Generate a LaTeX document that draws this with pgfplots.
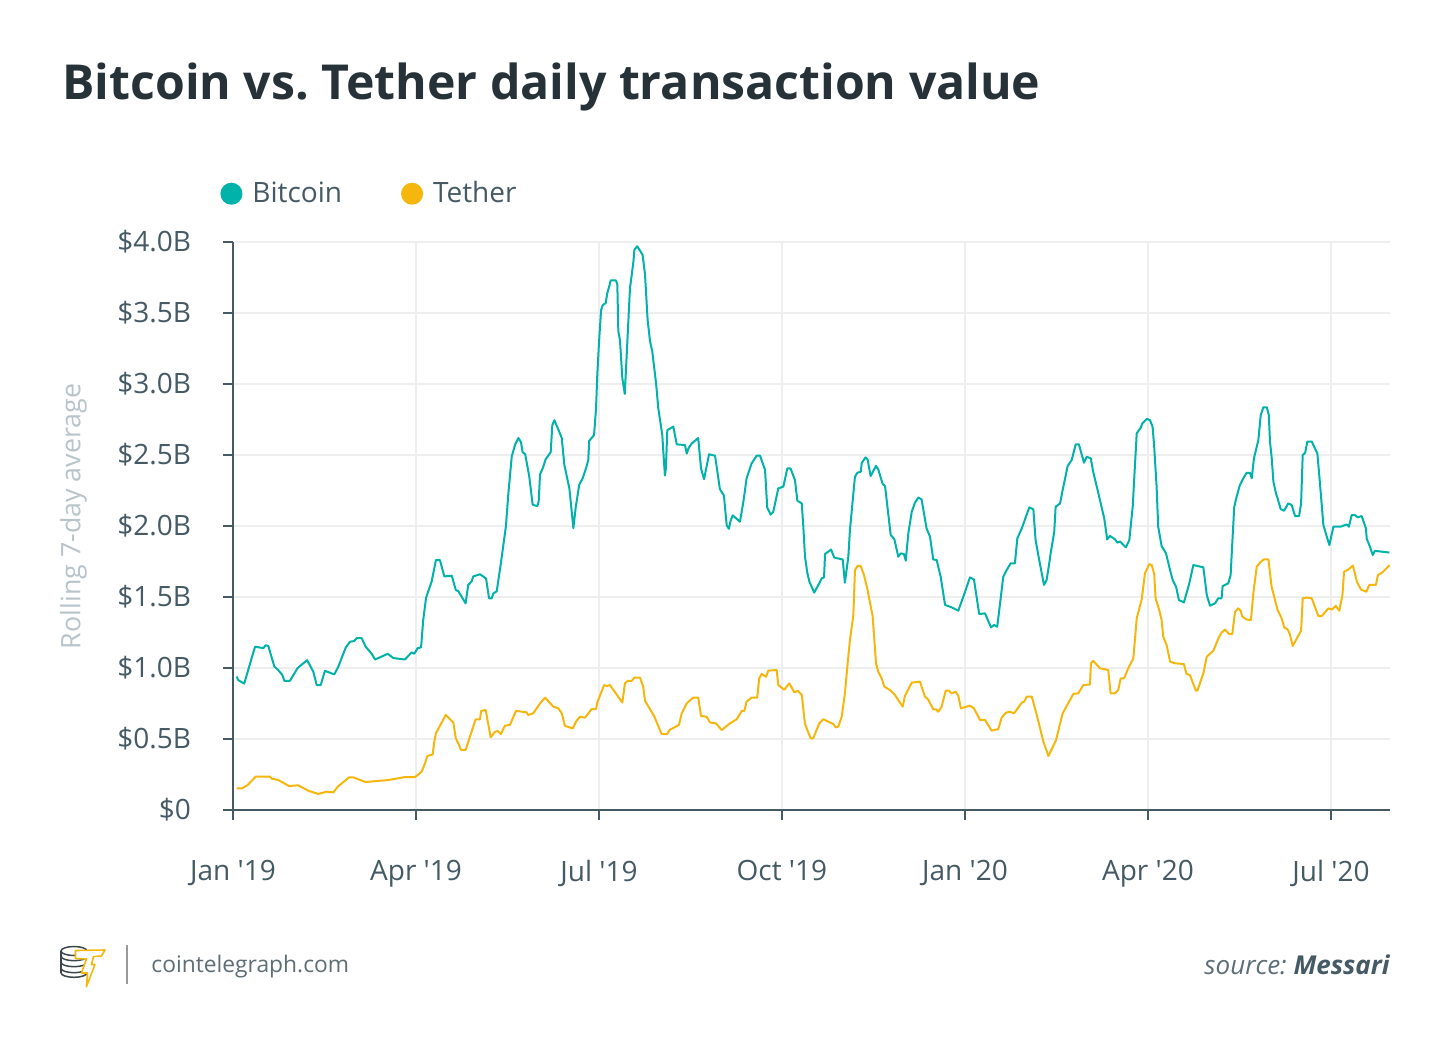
\documentclass[border=0pt]{standalone}
\usepackage{fontspec}
\setmainfont{Open Sans}
\newfontfamily\osans{Open Sans}
\usepackage{pgfplots}
\pgfplotsset{compat=1.18}
\definecolor{btc}{HTML}{00B2A9}
\definecolor{usdt}{HTML}{F5B70D}
\definecolor{titlec}{HTML}{263238}
\definecolor{labc}{HTML}{455A64}
\definecolor{gridc}{HTML}{EEEEEE}
\definecolor{ylabc}{HTML}{B8C4CA}
\definecolor{footc}{HTML}{5E6E76}
\frenchspacing
\begin{document}
\begin{tikzpicture}[x=1pt,y=1pt]
\useasboundingbox (0,0) rectangle (725,522.5);
\fill[white] (0,0) rectangle (725,522.5);
\node[anchor=base west,inner sep=0pt,text=titlec,font=\osans\bfseries\fontsize{24.1}{28}\selectfont] at (31,472.5) {Bitcoin vs.\ Tether daily transaction value};
\begin{axis}[
  at={(116.5pt,117.5pt)}, anchor=south west,
  width=578.5pt, height=284pt, scale only axis,
  xmin=0, xmax=576.5, ymin=0, ymax=4,
  axis lines*=left,
  axis line style={labc, line width=1pt},
  tick style={labc, line width=1pt},
  tick align=outside, major tick length=5pt,
  xtick={0,91.2,182.4,273.5,364.7,455.9,547.1},
  xticklabels={Jan '19,Apr '19,Jul '19,Oct '19,Jan '20,Apr '20,Jul '20},
  ytick={0,0.5,1,1.5,2,2.5,3,3.5,4},
  yticklabels={\$0,\$0.5B,\$1.0B,\$1.5B,\$2.0B,\$2.5B,\$3.0B,\$3.5B,\$4.0B},
  ticklabel style={font=\osans\fontsize{14}{16}\selectfont, text=labc},
  xticklabel style={yshift=-16.5pt},
  yticklabel style={xshift=-12.5pt},
  grid=major,
  major grid style={gridc, line width=1pt},
  ylabel={Rolling 7-day average},
  ylabel style={at={(axis description cs:-0.138,0.517)}, anchor=center, rotate=0, font=\osans\fontsize{13.4}{15}\selectfont, text=ylabc},
  legend style={at={(axis description cs:-0.0112,1.085)}, anchor=west, draw=none, fill=none, inner sep=0pt, font=\osans\fontsize{14}{16}\selectfont, text=labc, legend columns=2,
    /tikz/every odd column/.append style={column sep=3pt},
    /tikz/every even column/.append style={column sep=27.5pt}},
  legend cell align=left,
  legend image code/.code={\fill[#1] (5pt,0pt) circle (5pt);},
  clip=false,
]
\addplot[btc, line width=1pt, line join=round] coordinates {
(1.8,0.94)(2.6,0.915)(5.6,0.89)(9.3,1.07)(11.0,1.15)(15.1,1.14)(16.3,1.16)(17.6,1.155)(20.6,1.01)(22.6,0.985)(24.6,0.95)(25.6,0.91)(28.4,0.91)(32.2,1.0)(36.9,1.055)(40.0,0.975)(41.7,0.88)(43.7,0.88)(45.8,0.98)(50.5,0.955)(52.5,1.01)(56.2,1.145)(58.3,1.185)(60.4,1.19)(61.6,1.21)(64.1,1.21)(66.1,1.15)(69.1,1.10)(70.8,1.06)(73.2,1.075)(77.1,1.10)(79.9,1.07)(85.7,1.06)(89.0,1.11)(90.3,1.10)(92.0,1.14)(93.7,1.145)(94.8,1.34)(96.2,1.495)(99.0,1.61)(101.1,1.76)(103.1,1.76)(105.3,1.645)(109.0,1.65)(111.0,1.55)(112.3,1.54)(115.9,1.455)(117.2,1.585)(118.9,1.61)(119.7,1.645)(123.1,1.66)(126.1,1.63)(127.6,1.49)(128.9,1.49)(129.7,1.525)(131.4,1.54)(133.5,1.74)(136.0,2.0)(137.2,2.23)(138.9,2.49)(140.5,2.57)(142.2,2.62)(143.5,2.59)(144.3,2.52)(145.6,2.505)(147.6,2.35)(149.3,2.15)(151.6,2.14)(152.3,2.17)(153.0,2.365)(154.3,2.405)(155.8,2.47)(158.3,2.52)(159.1,2.71)(160.1,2.745)(161.8,2.69)(163.8,2.62)(165.1,2.43)(167.6,2.265)(169.6,1.985)(170.8,2.135)(172.5,2.29)(174.2,2.335)(176.2,2.42)(177.0,2.465)(177.5,2.60)(179.9,2.64)(180.9,2.83)(181.5,3.06)(182.4,3.30)(183.4,3.52)(184.2,3.555)(185.7,3.57)(186.5,3.64)(187.5,3.69)(188.2,3.73)(190.8,3.73)(191.5,3.70)(192.0,3.37)(192.8,3.31)(194.0,3.04)(195.2,2.93)(196.5,3.30)(197.8,3.675)(198.7,3.77)(199.5,3.86)(200.0,3.945)(201.4,3.97)(204.1,3.91)(205.3,3.77)(206.6,3.45)(207.8,3.30)(208.9,3.23)(210.8,3.005)(211.9,2.83)(213.9,2.64)(215.2,2.355)(215.7,2.405)(216.4,2.675)(219.4,2.70)(221.1,2.575)(225.2,2.57)(226.1,2.51)(226.9,2.545)(228.5,2.58)(231.8,2.62)(233.2,2.405)(234.7,2.33)(237.2,2.505)(240.2,2.495)(242.6,2.26)(244.6,2.215)(246.0,2.005)(247.1,1.98)(248.0,2.04)(249.0,2.075)(252.6,2.03)(254.3,2.17)(255.9,2.335)(258.4,2.44)(260.9,2.495)(262.6,2.495)(265.1,2.395)(266.2,2.13)(267.9,2.08)(269.2,2.10)(271.7,2.265)(274.2,2.277)(276.2,2.405)(277.8,2.405)(280.0,2.324)(281.2,2.178)(283.4,2.159)(284.2,1.99)(285.0,1.784)(286.2,1.667)(287.2,1.608)(289.6,1.531)(292.1,1.596)(293.3,1.631)(294.5,1.638)(295.0,1.803)(298.0,1.834)(299.6,1.778)(303.8,1.764)(304.9,1.601)(306.6,1.784)(307.4,1.972)(308.8,2.183)(309.9,2.347)(311.1,2.375)(312.8,2.382)(313.3,2.444)(315.2,2.483)(316.2,2.469)(317.7,2.352)(320.4,2.423)(321.5,2.399)(323.7,2.296)(324.9,2.282)(327.7,1.937)(329.5,1.908)(331.5,1.784)(332.7,1.807)(334.3,1.803)(335.2,1.756)(336.5,1.948)(338.2,2.101)(339.8,2.164)(341.5,2.201)(343.1,2.187)(345.6,1.982)(347.3,1.925)(348.9,1.764)(350.6,1.761)(352.6,1.643)(354.8,1.444)(358.1,1.427)(361.4,1.404)(364.2,1.514)(367.2,1.638)(369.2,1.623)(371.8,1.380)(374.7,1.385)(377.7,1.286)(379.2,1.303)(380.8,1.291)(383.8,1.643)(385.5,1.690)(387.5,1.737)(389.6,1.737)(390.8,1.913)(393.0,1.982)(395.1,2.066)(396.8,2.131)(398.8,2.117)(399.9,1.901)(401.7,1.761)(404.1,1.585)(405.4,1.620)(406.7,1.737)(407.4,1.807)(409.2,1.960)(409.9,2.136)(412.1,2.159)(413.4,2.254)(415.9,2.423)(417.9,2.465)(419.9,2.575)(421.5,2.575)(424.0,2.446)(425.4,2.488)(427.4,2.476)(428.6,2.382)(430.8,2.254)(434.1,2.054)(435.6,1.906)(437.0,1.930)(439.5,1.906)(440.6,1.883)(442.0,1.890)(444.9,1.850)(446.6,1.901)(448.3,2.136)(449.1,2.347)(450.3,2.653)(452.3,2.693)(453.1,2.722)(455.3,2.754)(456.9,2.746)(458.2,2.699)(459.0,2.559)(460.2,2.277)(461.0,1.995)(462.7,1.859)(464.9,1.807)(466.9,1.690)(468.2,1.620)(469.9,1.573)(471.3,1.479)(473.8,1.462)(476.5,1.596)(478.5,1.725)(483.5,1.709)(485.2,1.514)(486.8,1.439)(489.3,1.455)(490.9,1.491)(492.6,1.491)(493.1,1.577)(495.9,1.596)(497.1,1.655)(497.9,1.878)(498.9,2.136)(500.1,2.207)(501.7,2.289)(503.4,2.336)(505.1,2.375)(506.7,2.375)(507.6,2.336)(508.7,2.476)(510.9,2.606)(512.1,2.782)(513.4,2.836)(515.1,2.836)(516.1,2.782)(516.7,2.594)(517.5,2.488)(518.4,2.312)(519.7,2.229)(520.5,2.194)(522.0,2.120)(523.7,2.107)(525.8,2.159)(527.5,2.148)(529.2,2.070)(531.2,2.070)(532.2,2.159)(533.0,2.500)(534.2,2.515)(535.3,2.594)(537.5,2.594)(540.3,2.511)(541.6,2.300)(543.3,2.007)(545.0,1.925)(546.3,1.866)(548.3,1.995)(551.9,1.995)(554.9,2.011)(556.0,1.995)(557.4,2.077)(559.0,2.077)(560.4,2.061)(562.4,2.070)(564.5,1.982)(564.9,1.911)(566.5,1.854)(567.9,1.796)(569.0,1.825)(576.2,1.813)
};
\addlegendentry{Bitcoin}
\addplot[usdt, line width=1pt, line join=round] coordinates {
(1.8,0.153)(4.6,0.153)(7.3,0.176)(11.3,0.235)(18.4,0.235)(19.3,0.221)(22.6,0.211)(27.9,0.169)(32.5,0.174)(37.5,0.136)(42.5,0.113)(46.7,0.129)(50.0,0.124)(52.2,0.164)(57.8,0.230)(59.9,0.230)(66.1,0.197)(77.4,0.211)(85.7,0.232)(90.7,0.232)(94.0,0.270)(95.7,0.329)(96.8,0.380)(99.5,0.391)(100.3,0.481)(101.1,0.540)(106.0,0.669)(109.8,0.616)(111.0,0.505)(112.3,0.468)(113.6,0.423)(115.9,0.423)(120.9,0.639)(123.1,0.639)(123.6,0.698)(125.9,0.704)(128.4,0.512)(130.5,0.551)(131.9,0.556)(133.5,0.535)(135.5,0.594)(138.0,0.599)(141.0,0.698)(146.3,0.688)(147.1,0.669)(149.6,0.681)(153.0,0.751)(155.5,0.791)(159.6,0.728)(162.1,0.716)(163.8,0.681)(165.4,0.592)(169.3,0.575)(171.2,0.629)(172.9,0.657)(175.4,0.650)(178.7,0.711)(180.9,0.711)(181.5,0.756)(184.9,0.880)(186.2,0.873)(187.8,0.880)(194.0,0.757)(195.3,0.892)(196.7,0.910)(198.7,0.910)(200.0,0.932)(202.8,0.932)(204.4,0.868)(205.3,0.769)(209.8,0.662)(213.6,0.535)(216.4,0.535)(217.4,0.563)(222.2,0.599)(223.6,0.681)(226.1,0.751)(229.3,0.792)(231.8,0.792)(233.2,0.662)(236.0,0.657)(237.7,0.616)(240.7,0.610)(243.5,0.563)(247.6,0.610)(251.0,0.639)(253.5,0.698)(254.8,0.698)(255.9,0.763)(258.4,0.792)(261.2,0.792)(262.2,0.927)(263.4,0.958)(265.6,0.938)(266.7,0.981)(270.9,0.986)(271.7,0.880)(274.7,0.847)(277.2,0.892)(279.7,0.828)(281.4,0.840)(283.4,0.810)(285.0,0.606)(287.8,0.505)(289.1,0.505)(292.1,0.610)(294.1,0.639)(299.1,0.606)(300.3,0.582)(301.6,0.587)(303.3,0.657)(304.9,0.822)(306.1,1.009)(307.4,1.197)(309.1,1.373)(309.9,1.690)(311.3,1.721)(312.8,1.718)(314.4,1.655)(316.2,1.549)(318.7,1.366)(320.4,1.033)(321.5,0.974)(323.2,0.927)(324.5,0.869)(327.4,0.845)(329.8,0.810)(333.7,0.728)(334.8,0.803)(338.2,0.897)(342.3,0.904)(344.8,0.798)(346.4,0.778)(348.9,0.709)(350.3,0.709)(351.4,0.692)(353.1,0.728)(355.1,0.840)(356.7,0.840)(358.1,0.822)(360.1,0.833)(361.4,0.803)(362.7,0.716)(367.2,0.735)(369.2,0.716)(372.2,0.634)(374.7,0.634)(378.0,0.559)(381.3,0.570)(383.0,0.650)(385.1,0.685)(387.1,0.692)(389.2,0.681)(393.0,0.756)(394.2,0.763)(395.5,0.798)(398.0,0.798)(400.5,0.669)(403.8,0.481)(406.3,0.380)(410.1,0.493)(413.4,0.681)(418.7,0.817)(421.2,0.822)(423.7,0.880)(427.0,0.884)(427.5,1.033)(428.6,1.051)(432.0,0.998)(436.1,0.986)(437.3,0.822)(439.5,0.822)(441.1,0.845)(442.3,0.927)(444.0,0.927)(445.8,0.989)(448.6,1.068)(449.4,1.197)(450.3,1.350)(452.8,1.484)(454.4,1.667)(456.6,1.732)(457.8,1.725)(459.0,1.662)(459.7,1.491)(461.5,1.408)(462.7,1.338)(463.5,1.221)(465.2,1.162)(466.9,1.045)(469.4,1.033)(473.8,1.028)(475.1,0.958)(476.8,0.951)(479.8,0.840)(480.5,0.840)(483.5,0.962)(485.2,1.080)(488.5,1.122)(491.0,1.209)(492.6,1.249)(494.3,1.271)(496.3,1.239)(497.9,1.239)(499.3,1.397)(500.9,1.420)(502.1,1.403)(502.9,1.362)(505.1,1.342)(507.2,1.338)(508.4,1.526)(510.1,1.714)(512.1,1.748)(513.7,1.765)(515.9,1.765)(517.5,1.573)(519.2,1.479)(520.5,1.408)(522.5,1.350)(523.8,1.286)(525.5,1.271)(526.6,1.239)(528.0,1.155)(532.2,1.263)(533.0,1.491)(535.3,1.496)(537.5,1.491)(540.8,1.366)(542.5,1.366)(545.8,1.420)(547.5,1.412)(549.5,1.437)(551.2,1.403)(552.8,1.514)(553.6,1.678)(555.8,1.694)(558.0,1.721)(560.0,1.608)(562.0,1.553)(564.7,1.537)(566.2,1.585)(569.5,1.585)(570.5,1.655)(572.5,1.671)(574.2,1.694)(576.3,1.725)
};
\addlegendentry{Tether}
\end{axis}
% footer logo (coordinates in image pixels)
\begin{scope}[shift={(0pt,522.5pt)}, x=0.5pt, y=-0.5pt]
  \begin{scope}[draw=titlec!90, line width=0.75pt]
    \draw (74,951) ellipse[x radius=13, y radius=4.5];
    \foreach \cy in {956.2,962.2,968.2,972.8}{
      \draw (61,\cy) arc[start angle=180, end angle=0, x radius=13, y radius=4.5];
    }
    \draw (61,951) -- (61,972.8);
    \draw (87,951) -- (87,972.8);
  \end{scope}
  \draw[usdt, line width=0.8pt, fill=white, line join=round]
    (75.5,950.5) -- (105,950) -- (101.5,956) -- (93.5,956.5) -- (91.5,964.5) -- (95,964.5) -- (86.5,986.5) -- (87.5,973) -- (81.5,973) -- (86.5,959) -- (75.5,958.5) -- cycle;
  \draw[gray!80, line width=1pt] (127.3,945) -- (127.3,984);
\end{scope}
\node[anchor=base west, inner sep=0pt, text=footc, font=\osans\fontsize{11.4}{13}\selectfont] at (75.5,36.5) {cointelegraph.com};
\node[anchor=base east, inner sep=0pt, text=labc, font=\osans\fontsize{13}{15}\selectfont] at (695,35.5) {{\color{footc}\itshape source:} \bfseries\itshape Messari};
\end{tikzpicture}
\end{document}
